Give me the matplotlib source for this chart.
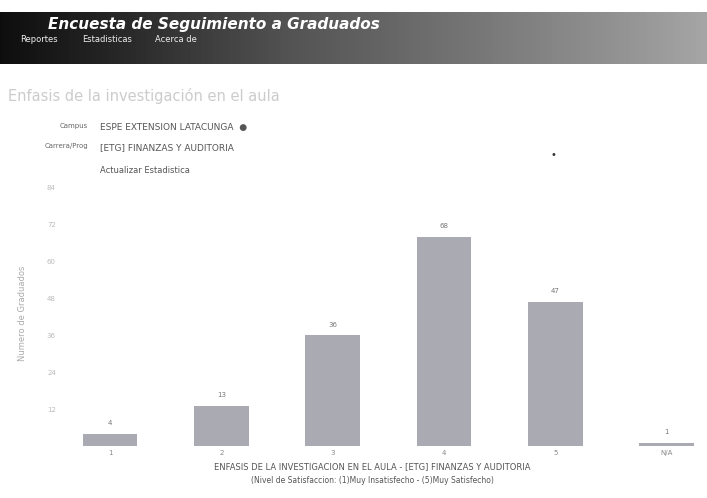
import matplotlib.pyplot as plt
import numpy as np

# datos del grafico
categorias = ['1', '2', '3', '4', '5', 'N/A']
graduados = [4, 13, 36, 68, 47, 1]
ticks_y = [12, 24, 36, 48, 60, 72, 84]

W, H = 707, 498
fig = plt.figure(figsize=(W / 100, H / 100), dpi=100)
fig.patch.set_facecolor('white')

def px(x, y):
    return x / W, 1 - y / H

# barra de cabecera (degradado oscuro)
cab = fig.add_axes([0, 1 - 64 / H, 1, 52 / H])
grad = np.linspace(0, 1, 256).reshape(1, -1)
cab.imshow(grad, aspect='auto', cmap='Greys_r', vmin=-0.1, vmax=1.9, extent=[0, 1, 0, 1])
cab.axis('off')
fig.text(*px(48, 24), 'Encuesta de Seguimiento a Graduados', color='white', fontsize=11,
         fontweight='bold', style='italic', va='center')
for x, t in [(20, 'Reportes'), (82, 'Estadisticas'), (155, 'Acerca de')]:
    fig.text(*px(x, 40), t, color='#eeeeee', fontsize=6, va='center')

# titulo de la pagina
fig.text(*px(8, 96), 'Enfasis de la investigación en el aula', color='#cccccc', fontsize=10.5, va='center')

# formulario
fig.text(*px(88, 126), 'Campus', color='#666666', fontsize=5, ha='right', va='center')
fig.text(*px(100, 127), 'ESPE EXTENSION LATACUNGA  ●', color='#555555', fontsize=6.5, va='center')
fig.text(*px(88, 146), 'Carrera/Prog', color='#666666', fontsize=5, ha='right', va='center')
fig.text(*px(100, 148), '[ETG] FINANZAS Y AUDITORIA', color='#555555', fontsize=6.5, va='center')
fig.text(*px(100, 170), 'Actualizar Estadistica', color='#555555', fontsize=6, va='center')
fig.text(*px(553, 155), '•', color='#333333', fontsize=7, ha='center', va='center')

# grafico de barras
ax = fig.add_axes([60 / W, 1 - 446 / H, 640 / W, 266 / H])
x = np.arange(len(categorias))
ax.bar(x, graduados, width=0.49, color='#aaaab2')
for xi, v in zip(x, graduados):
    ax.text(xi, v + 2.5, str(v), ha='center', va='bottom', fontsize=5, color='#777777')
ax.set_xlim(-0.45, 5.3)
ax.set_ylim(0, 86.6)
ax.set_xticks(x)
ax.set_xticklabels(categorias, fontsize=5, color='#888888')
ax.set_yticks(ticks_y)
ax.set_yticklabels([str(t) for t in ticks_y], fontsize=5, color='#bbbbbb')
ax.tick_params(length=0, pad=3)
for s in ax.spines.values():
    s.set_visible(False)
ax.set_ylabel('Numero de Graduados', fontsize=6, color='#aaaaaa', labelpad=14)

fig.text(*px(372, 467), 'ENFASIS DE LA INVESTIGACION EN EL AULA - [ETG] FINANZAS Y AUDITORIA',
         fontsize=6, color='#555555', ha='center', va='center')
fig.text(*px(372, 480), '(Nivel de Satisfaccion: (1)Muy Insatisfecho - (5)Muy Satisfecho)',
         fontsize=5.5, color='#555555', ha='center', va='center')

fig.savefig('out.png', dpi=100)
